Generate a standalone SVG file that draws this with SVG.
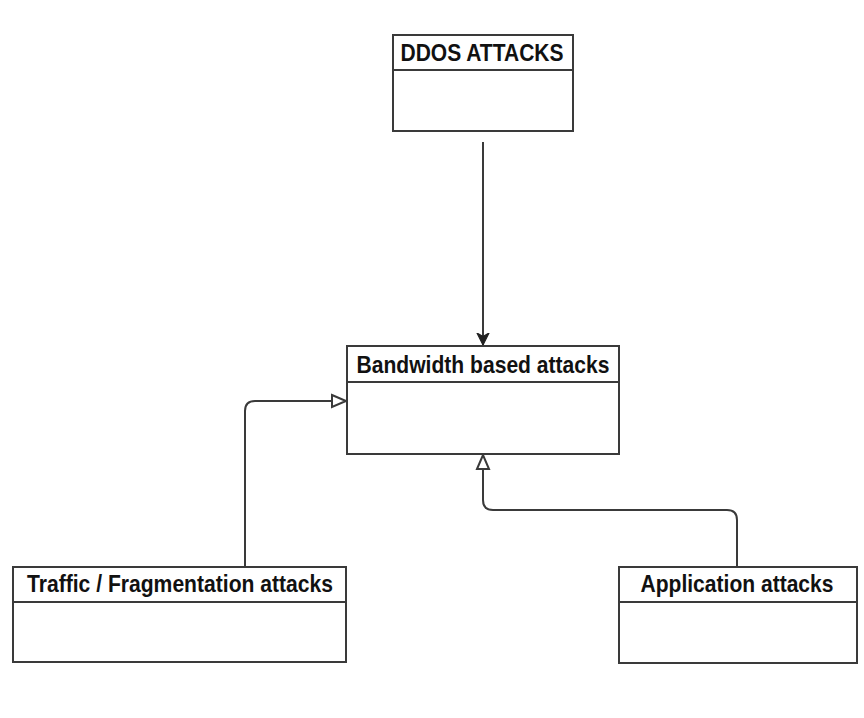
<svg xmlns="http://www.w3.org/2000/svg" width="864" height="718" viewBox="0 0 864 718">
<style>
.box{fill:#fff;stroke:#3a3a3a;stroke-width:2}
.div{stroke:#3a3a3a;stroke-width:2}
.lbl{font-family:"Liberation Sans",Arial,sans-serif;font-weight:bold;font-size:24px;fill:#111;text-anchor:middle}
.edge{fill:none;stroke:#3a3a3a;stroke-width:2}
</style>
<defs>
<marker id="filled" markerWidth="12" markerHeight="14" refX="10" refY="5" orient="auto" markerUnits="userSpaceOnUse" viewBox="0 0 10 10">
<path d="M0,0 L10,5 L0,10 L3,5 Z" fill="#222" stroke="#222" stroke-width="1"/>
</marker>
<marker id="hollow" markerWidth="17" markerHeight="17" refX="15" refY="7" orient="auto" markerUnits="userSpaceOnUse" viewBox="0 0 17 14">
<path d="M1,1 L15,7 L1,13 Z" fill="#fff" stroke="#3a3a3a" stroke-width="2"/>
</marker>
</defs>
<rect width="864" height="718" fill="#fff"/>
<g id="connectors">
<path class="edge" d="M483,142 L483,345" marker-end="url(#filled)"/>
<path class="edge" d="M245,567 L245,411 Q245,401 255,401 L346,401" marker-end="url(#hollow)"/>
<path class="edge" d="M737,567 L737,520 Q737,510 727,510 L493,510 Q483,510 483,500 L483,455" marker-end="url(#hollow)"/>
</g>
<g id="ddos">
<rect class="box" x="393" y="35" width="180" height="96"/>
<line class="div" x1="393" y1="70" x2="573" y2="70"/>
<text class="lbl" x="482" y="61" textLength="163" lengthAdjust="spacingAndGlyphs">DDOS ATTACKS</text>
</g>
<g id="bandwidth">
<rect class="box" x="347" y="346" width="272" height="108"/>
<line class="div" x1="347" y1="382" x2="619" y2="382"/>
<text class="lbl" x="483" y="373" textLength="253" lengthAdjust="spacingAndGlyphs">Bandwidth based attacks</text>
</g>
<g id="traffic">
<rect class="box" x="13" y="567" width="333" height="95"/>
<line class="div" x1="13" y1="602" x2="346" y2="602"/>
<text class="lbl" x="180" y="592" textLength="306" lengthAdjust="spacingAndGlyphs">Traffic / Fragmentation attacks</text>
</g>
<g id="application">
<rect class="box" x="619" y="567" width="238" height="96"/>
<line class="div" x1="619" y1="602" x2="857" y2="602"/>
<text class="lbl" x="737" y="592" textLength="193" lengthAdjust="spacingAndGlyphs">Application attacks</text>
</g>
</svg>
